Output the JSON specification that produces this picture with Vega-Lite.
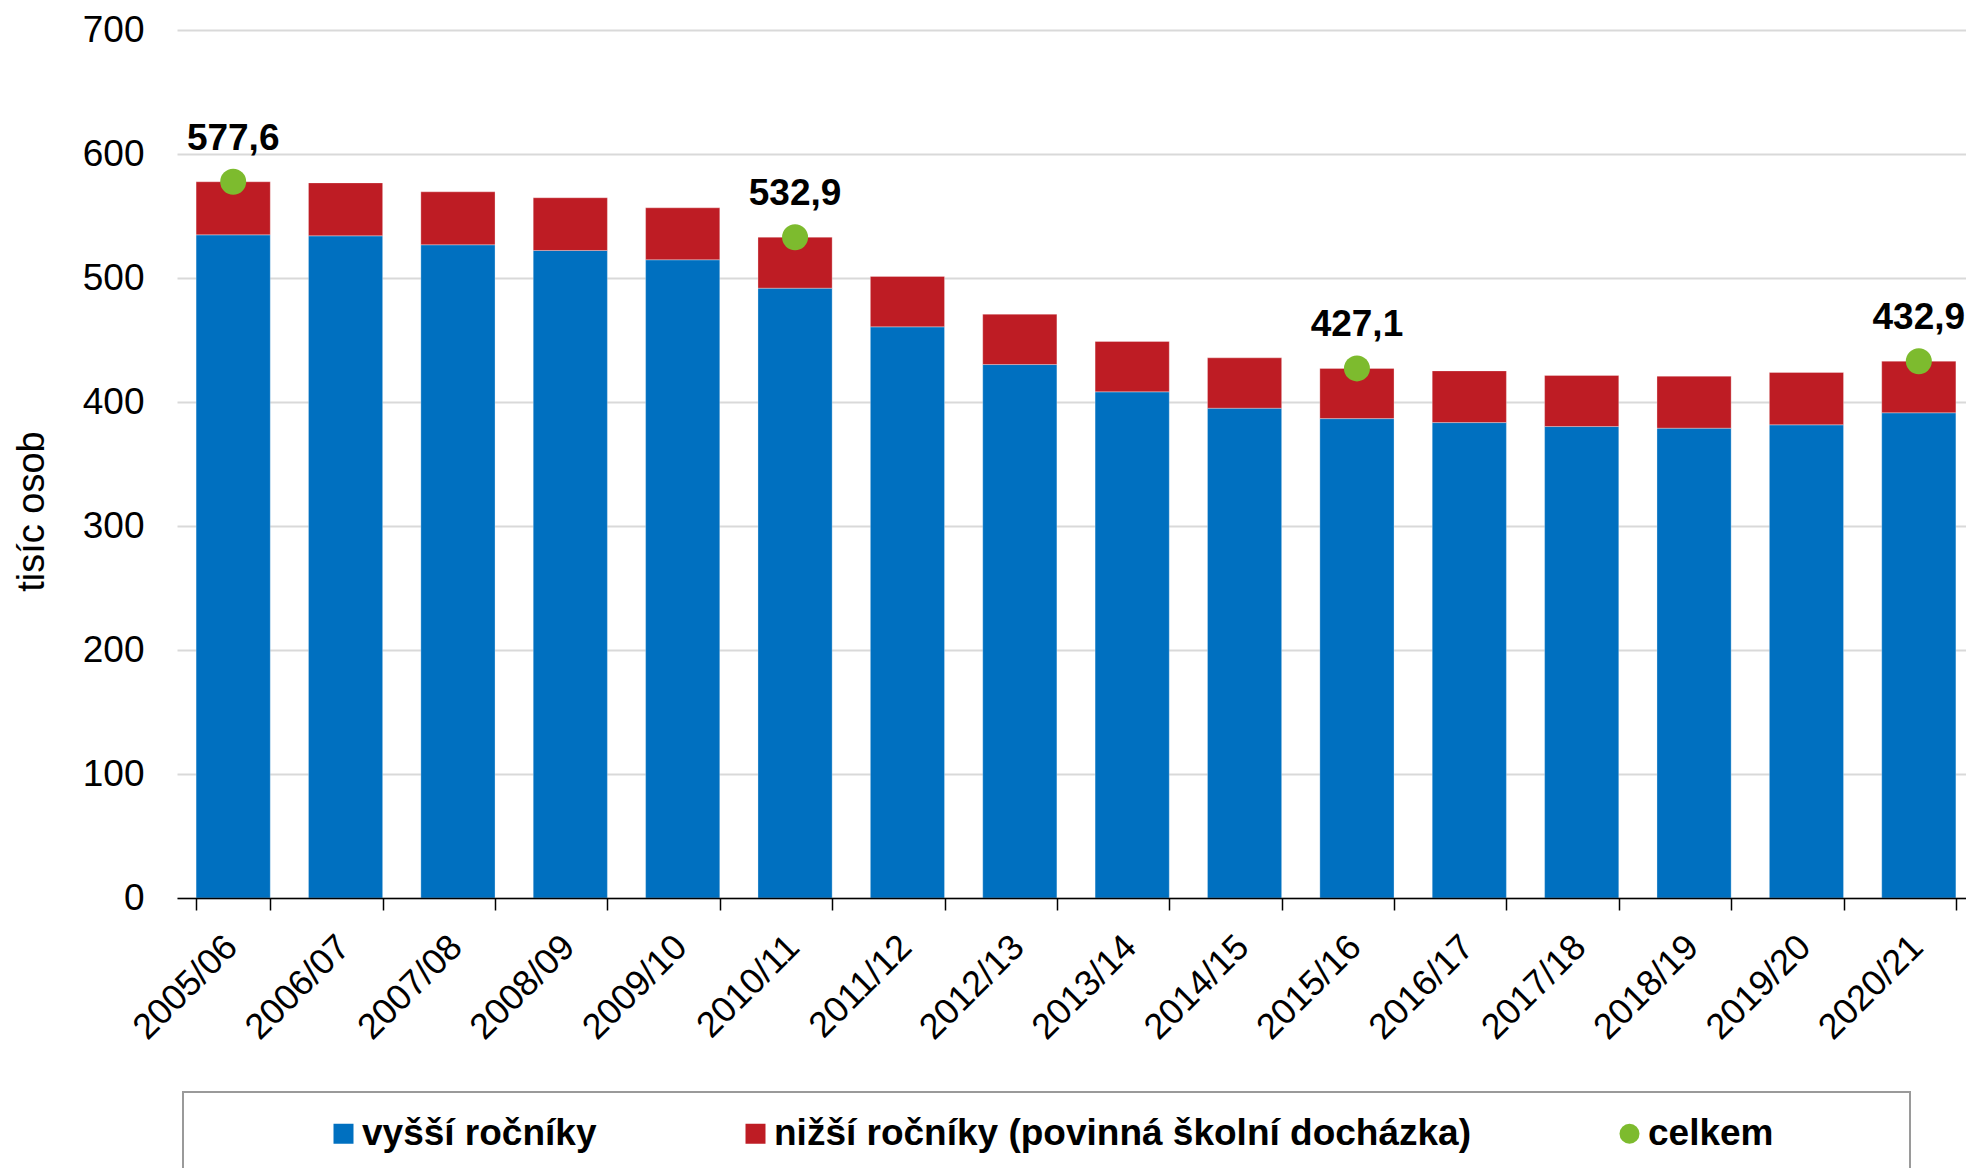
{
  "$schema": "https://vega.github.io/schema/vega-lite/v6.json",
  "width": 1789,
  "height": 868,
  "autosize": {"type": "none"},
  "padding": {"left": 177, "top": 30, "right": 0, "bottom": 270},
  "background": "white",
  "config": {
    "font": "Liberation Sans",
    "view": {"stroke": null},
    "locale": {"number": {"decimal": ",", "thousands": " ", "grouping": [3], "currency": ["", " Kč"]}},
    "legend": {"strokeWidth": 2}
  },
  "data": {
    "values": [
      {"rok": "2005/06", "vyssi": 534.8, "nizsi": 42.8, "celkem": 577.6},
      {"rok": "2006/07", "vyssi": 534.0, "nizsi": 42.7, "celkem": 576.7},
      {"rok": "2007/08", "vyssi": 526.8, "nizsi": 42.7, "celkem": 569.5},
      {"rok": "2008/09", "vyssi": 522.2, "nizsi": 42.5, "celkem": 564.7},
      {"rok": "2009/10", "vyssi": 514.7, "nizsi": 41.9, "celkem": 556.6},
      {"rok": "2010/11", "vyssi": 491.8, "nizsi": 41.1, "celkem": 532.9},
      {"rok": "2011/12", "vyssi": 460.6, "nizsi": 40.7, "celkem": 501.3},
      {"rok": "2012/13", "vyssi": 430.2, "nizsi": 40.6, "celkem": 470.8},
      {"rok": "2013/14", "vyssi": 408.2, "nizsi": 40.6, "celkem": 448.8},
      {"rok": "2014/15", "vyssi": 395.0, "nizsi": 40.6, "celkem": 435.6},
      {"rok": "2015/16", "vyssi": 386.6, "nizsi": 40.5, "celkem": 427.1},
      {"rok": "2016/17", "vyssi": 383.4, "nizsi": 41.7, "celkem": 425.1},
      {"rok": "2017/18", "vyssi": 380.2, "nizsi": 41.2, "celkem": 421.4},
      {"rok": "2018/19", "vyssi": 378.9, "nizsi": 41.9, "celkem": 420.8},
      {"rok": "2019/20", "vyssi": 381.6, "nizsi": 42.2, "celkem": 423.8},
      {"rok": "2020/21", "vyssi": 391.3, "nizsi": 41.6, "celkem": 432.9}
    ]
  },
  "encoding": {
    "x": {
      "field": "rok",
      "type": "ordinal",
      "scale": {"paddingInner": 0.34, "paddingOuter": 0.17, "range": [0, 1798]},
      "axis": {
        "title": null,
        "labelAngle": -45,
        "labelAlign": "right",
        "labelBaseline": "middle",
        "labelFontSize": 36,
        "labelColor": "black",
        "labelPadding": 31,
        "labelOffset": -2,
        "tickSize": 12,
        "tickColor": "black",
        "tickWidth": 1.5,
        "domainColor": "black",
        "domainWidth": 1.5,
        "tickBand": "extent",
        "grid": false,
        "zindex": 1
      }
    }
  },
  "layer": [
    {
      "mark": {"type": "bar", "stroke": "white", "strokeWidth": 0.6, "strokeOpacity": 0.5},
      "encoding": {
        "y": {
          "field": "vyssi",
          "type": "quantitative",
          "stack": null,
          "title": "tisíc osob",
          "scale": {"domain": [0, 700], "nice": false},
          "axis": {
            "values": [0, 100, 200, 300, 400, 500, 600, 700],
            "grid": true,
            "gridColor": "#d9d9d9",
            "gridWidth": 2,
            "domain": false,
            "ticks": false,
            "tickSize": 0,
            "labelPadding": 33,
            "labelFontSize": 37,
            "labelColor": "black",
            "titleFontSize": 38,
            "titleFontWeight": "normal",
            "titleColor": "black",
            "titleX": -134,
            "titleY": 481,
            "titleAngle": -90,
            "titleAlign": "center",
            "titleBaseline": "alphabetic"
          }
        },
        "color": {
          "datum": "vyšší ročníky",
          "type": "nominal",
          "scale": {
            "domain": ["vyšší ročníky", "nižší ročníky (povinná školní docházka)", "celkem"],
            "range": ["#0070C0", "#BE1C24", "#7DBB2E"]
          },
          "legend": {
            "orient": "none",
            "legendX": 6,
            "legendY": 1062,
            "direction": "horizontal",
            "strokeColor": "#9a9a9a",
            "title": "\u200b\u00a0\u00a0\u00a0\u00a0\u00a0\u00a0\u00a0\u00a0\u00a0\u00a0\u00a0\u200b",
            "titleOrient": "left",
            "titleFontSize": 36,
            "titleFontWeight": "normal",
            "titlePadding": 8,
            "labelFontSize": 37,
            "labelFontWeight": "bold",
            "labelColor": "black",
            "labelLimit": 3000,
            "labelOffset": 0,
            "symbolSize": 400,
            "symbolStrokeWidth": 0,
            "symbolOpacity": 1,
            "columnPadding": 140,
            "padding": 23,
            "labelExpr": "datum.label == 'celkem' ? 'celkem\u00a0\u00a0\u00a0\u00a0\u00a0\u00a0\u00a0\u00a0\u00a0\u00a0\u00a0\u200b' : datum.label"
          }
        }
      }
    },
    {
      "mark": {"type": "bar", "stroke": "white", "strokeWidth": 0.6, "strokeOpacity": 0.5},
      "encoding": {
        "y": {"field": "vyssi", "type": "quantitative", "title": "tisíc osob"},
        "y2": {"field": "celkem"},
        "color": {"datum": "nižší ročníky (povinná školní docházka)", "type": "nominal"}
      }
    },
    {
      "transform": [{"filter": {"field": "rok", "oneOf": ["2005/06", "2010/11", "2015/16", "2020/21"]}}],
      "mark": {"type": "point", "filled": true, "size": 676, "opacity": 1},
      "encoding": {
        "y": {"field": "celkem", "type": "quantitative", "title": "tisíc osob"},
        "color": {"datum": "celkem", "type": "nominal"},
        "shape": {
          "datum": "celkem",
          "type": "nominal",
          "scale": {
            "domain": ["vyšší ročníky", "nižší ročníky (povinná školní docházka)", "celkem"],
            "range": ["square", "square", "circle"]
          }
        }
      }
    },
    {
      "transform": [{"filter": {"field": "rok", "oneOf": ["2005/06", "2010/11", "2015/16", "2020/21"]}}],
      "mark": {"type": "text", "fontSize": 37, "fontWeight": "bold", "dy": -32, "baseline": "alphabetic", "align": "center", "color": "black"},
      "encoding": {
        "y": {"field": "celkem", "type": "quantitative", "title": "tisíc osob"},
        "text": {"field": "celkem", "type": "quantitative", "format": ".1f"}
      }
    }
  ]
}
